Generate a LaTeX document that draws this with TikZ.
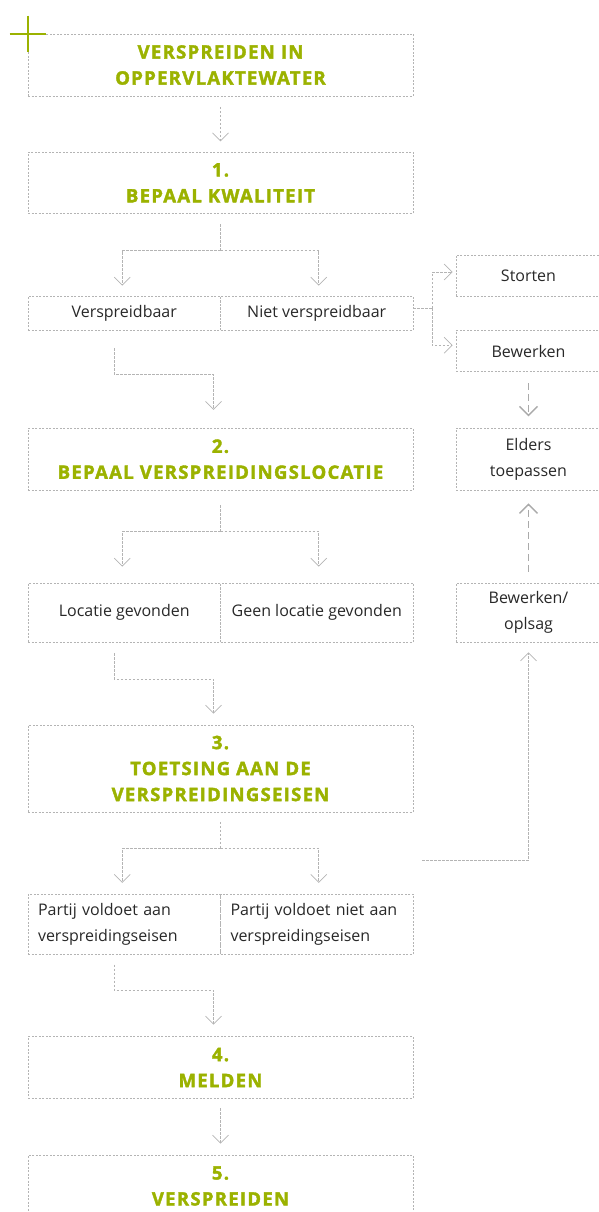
\documentclass[tikz,border=0pt]{standalone}
\usepackage{fontspec}
\setmainfont{Open Sans}
\newfontfamily\hfont[LetterSpace=7,FakeBold=2]{Open Sans}
\usetikzlibrary{arrows.meta,calc}
\definecolor{lgreen}{RGB}{155,178,0}
\definecolor{lgray}{RGB}{180,180,180}
\definecolor{dgray}{RGB}{170,170,170}
\definecolor{txt}{RGB}{40,40,40}
\begin{document}
\begin{tikzpicture}[x=1pt,y=-1pt,
  box/.style={draw=lgray, line width=0.8pt, dash pattern=on 2pt off 1.5pt, minimum width=385pt, inner sep=0pt, align=center},
  half/.style={box, minimum width=192.5pt},
  side/.style={box, minimum width=145pt},
  head/.style={text=lgreen, font=\hfont\fontsize{18.5}{26}\selectfont\bfseries},
  body/.style={text=txt, font=\fontsize{16}{26}\selectfont},
  conn/.style={draw=lgray, line width=0.8pt, dash pattern=on 2.5pt off 1.5pt, -{Straight Barb[length=8pt,width=16pt,line width=0.7pt]}},
  connl/.style={draw=lgray, line width=0.8pt, dash pattern=on 2.5pt off 1.5pt},
  bigconn/.style={draw=dgray, line width=1.6pt, dash pattern=on 7pt off 4pt, -{Straight Barb[length=9pt,width=18pt,line width=1.4pt]}},
  cross/.style={draw=lgreen, line width=2pt}
]
\useasboundingbox (0,0) rectangle (598,1212);

% main column
\node[box, head, minimum height=62pt] (t) at (220.5,65) {VERSPREIDEN IN\\OPPERVLAKTEWATER};
\node[box, head, minimum height=61pt] (b1) at (220.5,182.8) {1.\\BEPAAL KWALITEIT};
\node[half, body, minimum height=34pt] (v1) at (124.25,313) {Verspreidbaar};
\node[half, body, minimum height=34pt] (n1) at (316.75,313) {Niet verspreidbaar};
\node[box, head, minimum height=61.7pt] (b2) at (220.5,459.2) {2.\\BEPAAL VERSPREIDINGSLOCATIE};
\node[half, body, minimum height=59pt] (l2) at (124.25,612.5) {Locatie gevonden};
\node[half, body, minimum height=59pt] (g2) at (316.75,612.5) {Geen locatie gevonden};
\node[box, head, minimum height=87pt] (b3) at (220.5,768.5) {3.\\TOETSING AAN DE\\VERSPREIDINGSEISEN};
\node[half, body, minimum height=60pt, text width=172.5pt, align=left, inner xsep=10pt] (p1) at (124.25,924.3) {Partij voldoet aan\\verspreidingseisen};
\node[half, body, minimum height=60pt, text width=172.5pt, align=left, inner xsep=10pt] (p2) at (316.75,924.3) {Partij voldoet niet aan\\verspreidingseisen};
\node[box, head, minimum height=61.6pt] (b4) at (220.5,1067.5) {4.\\MELDEN};
\node[box, head, minimum height=62pt] (b5) at (220.5,1186) {5.\\VERSPREIDEN};

% side column
\node[side, body, minimum height=41.7pt] (st) at (528.5,276) {Storten};
\node[side, body, minimum height=41pt] (bw) at (528.5,351.2) {Bewerken};
\node[side, body, minimum height=61.7pt] (el) at (528.5,459.2) {Elders\\toepassen};
\node[side, body, minimum height=59pt] (bo) at (528.5,612.5) {Bewerken/\\oplsag};

% cross
\draw[cross] ($(t.north west)+(-18,0)$) -- ++(36,0);
\draw[cross] ($(t.north west)+(0,-18)$) -- ++(0,36);

% connectors
\draw[conn] ($(t.south)+(0,10.5)$) -- ($(b1.north)+(0,-10.5)$);

\coordinate (j1) at ($(b1.south)+(0,37)$);
\draw[connl] ($(b1.south)+(0,10.5)$) -- (j1);
\draw[conn] (j1) -| ($(v1.north)+(-2,-10)$);
\draw[conn] (j1) -| ($(n1.north)+(2,-10)$);

\draw[conn] ($(v1.south)+(-10,18)$) -- ++(0,26) -| ($(b2.north)+(-7,-18)$);

\coordinate (r1) at ($(n1.east)+(18.7,-5)$);
\draw[connl] ($(n1.east)+(0,-5)$) -- (r1);
\draw[conn] (r1) |- ($(st.west)+(-3,-4)$);
\draw[conn] (r1) |- ($(bw.west)+(-3,-6)$);

\draw[bigconn] ($(bw.south)+(0,11)$) -- ($(el.north)+(0,-11.5)$);
\draw[bigconn] ($(bo.north)+(0,-11)$) -- ($(el.south)+(0,13)$);

\coordinate (j2) at ($(b2.south)+(0,41)$);
\draw[connl] ($(b2.south)+(0,15)$) -- (j2);
\draw[conn] (j2) -| ($(l2.north)+(-2,-16)$);
\draw[conn] (j2) -| ($(g2.north)+(2,-16)$);

\draw[conn] ($(l2.south)+(-10,11)$) -- ++(0,25.5) -| ($(b3.north)+(-7,-11)$);

\coordinate (j3) at ($(b3.south)+(0,36)$);
\draw[connl] ($(b3.south)+(0,9.5)$) -- (j3);
\draw[conn] (j3) -| ($(p1.north)+(-2,-11)$);
\draw[conn] (j3) -| ($(p2.north)+(2,-11)$);

\coordinate (c3) at ($(b3.south east)+(8.7,47.7)$);
\draw[conn] (c3) -| ($(bo.south)+(0,10)$);

\draw[conn] ($(p1.south)+(-10,10)$) -- ++(0,25.7) -| ($(b4.north)+(-7,-11.7)$);

\draw[conn] ($(b4.south)+(0,9.7)$) -- ($(b5.north)+(0,-11)$);
\end{tikzpicture}
\end{document}
